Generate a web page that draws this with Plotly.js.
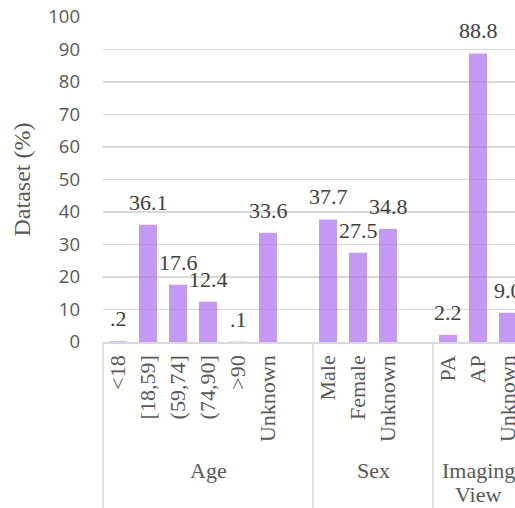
<!DOCTYPE html>
<html>
<head>
<meta charset="utf-8">
<script src="https://cdn.plot.ly/plotly-3.0.1.min.js"></script>
<style>
html,body{margin:0;padding:0;overflow:hidden;background:#fff;}
#chart{width:530px;height:508px;}
</style>
</head>
<body>
<div id="chart"></div>
<script>
// ---- data ----
const groupNames = ['Age', 'Sex', 'Imaging<br>View'];
const ageLabels = ['<18', '[18,59]', '(59,74]', '(74,90]', '>90', 'Unknown'];
const ageValues = [0.2, 36.1, 17.6, 12.4, 0.1, 33.6];
const sexLabels = ['Male', 'Female', 'Unknown'];
const sexValues = [37.7, 27.5, 34.8];
const viewLabels = ['PA', 'AP', 'Unknown'];
const viewValues = [2.2, 88.8, 9.0];
const yTicks = [0, 10, 20, 30, 40, 50, 60, 70, 80, 90, 100];

// ---- build slots (a blank slot closes every group but the last) ----
const groups = [
  {name: groupNames[0], labels: ageLabels, values: ageValues},
  {name: groupNames[1], labels: sexLabels, values: sexValues},
  {name: groupNames[2], labels: viewLabels, values: viewValues}
];
const xs = [], ys = [], tickText = [], bounds = [-0.5], centers = [];
let pos = 0;
groups.forEach((g, gi) => {
  const start = pos - 0.5;
  g.labels.forEach((lab, i) => {
    xs.push(pos); ys.push(g.values[i]); tickText.push(lab); pos++;
  });
  if (gi < groups.length - 1) pos++; // blank slot
  const end = pos - 0.5;
  bounds.push(end);
  centers.push((start + end) / 2);
});
const xRange = [-0.5, pos - 0.5];
const frac = v => (v - xRange[0]) / (xRange[1] - xRange[0]);
const fmt = v => v.toFixed(1).replace(/^0\./, '.');

const serif = "'Liberation Serif', 'Times New Roman', Times, serif";
const grey = '#595959';

const annotations = [];
xs.forEach((x, i) => {
  annotations.push({
    x: x, y: ys[i], xref: 'x', yref: 'y', text: fmt(ys[i]),
    showarrow: false, yanchor: 'bottom', yshift: 8,
    font: {family: serif, size: 22, color: '#404040'}
  });
});
groups.forEach((g, gi) => {
  g.name.split('<br>').forEach((line, li) => {
    annotations.push({
      x: centers[gi], y: -0.35, xref: 'x', yref: 'paper', text: line,
      showarrow: false, yanchor: 'top', align: 'center', yshift: -24 * li,
      font: {family: serif, size: 22, color: grey}
    });
  });
});

const shapes = bounds.map(b => ({
  type: 'line', xref: 'paper', yref: 'paper',
  x0: frac(b), x1: frac(b), y0: 0, y1: -0.7,
  line: {color: '#d9d9d9', width: 1.5}
}));

const trace = {
  type: 'bar', x: xs, y: ys, width: 0.6,
  marker: {color: 'rgba(170,110,240,0.7)', line: {width: 0}},
  hoverinfo: 'none'
};

const layout = {
  width: 530, height: 508,
  margin: {l: 103, r: 7, t: 17, b: 166},
  paper_bgcolor: '#fff', plot_bgcolor: '#fff',
  showlegend: false,
  xaxis: {
    range: xRange, tickmode: 'array', tickvals: xs, ticktext: tickText,
    tickangle: -90, ticks: '', showgrid: false, zeroline: false,
    showline: true, linecolor: '#d9d9d9', linewidth: 1.5,
    ticklabelstandoff: 3,
    tickfont: {family: serif, size: 22, color: grey},
    automargin: false, fixedrange: true
  },
  yaxis: {
    range: [0, 100], tickmode: 'array', tickvals: yTicks,
    ticks: '', showgrid: true, gridcolor: '#d9d9d9', gridwidth: 1.3,
    zeroline: false, showline: false, ticklabelstandoff: 22,
    tickfont: {family: "'Open Sans', sans-serif", size: 18.5, color: grey},
    title: {text: 'Dataset (%)', standoff: 10, font: {family: serif, size: 24, color: grey}},
    automargin: false, fixedrange: true
  },
  annotations: annotations,
  shapes: shapes
};

Plotly.newPlot('chart', [trace], layout, {displayModeBar: false, staticPlot: true});
</script>
</body>
</html>
